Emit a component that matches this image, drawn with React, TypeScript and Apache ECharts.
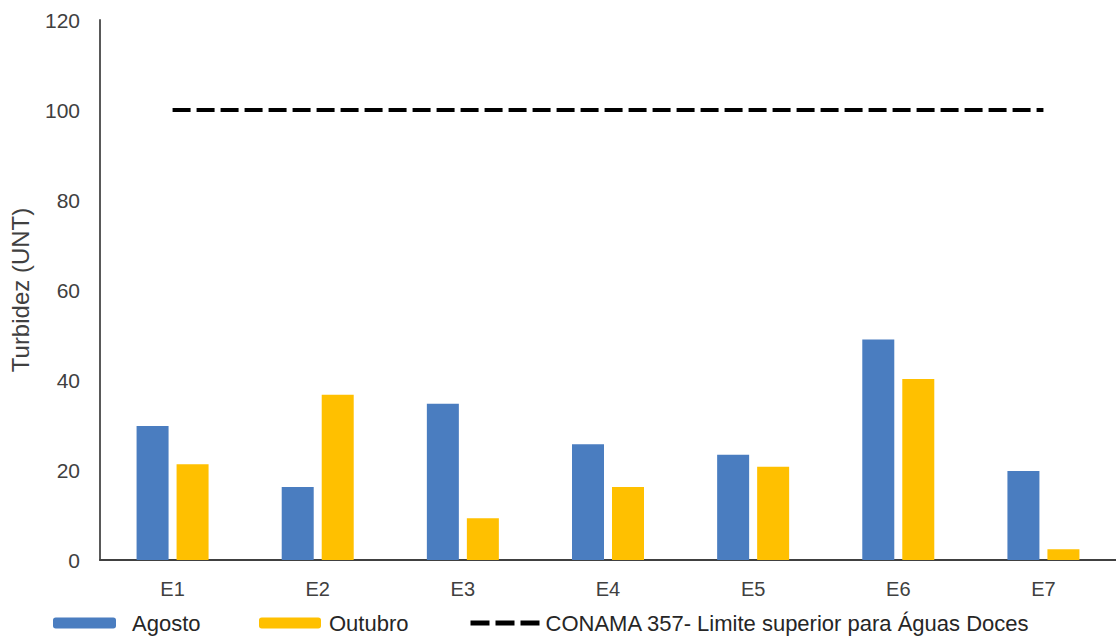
import React, { useEffect, useRef } from "react";
import * as echarts from "echarts";

const categories = ["E1", "E2", "E3", "E4", "E5", "E6", "E7"];
const agosto = [29.8, 16.2, 34.7, 25.7, 23.4, 49.0, 19.8];
const outubro = [21.3, 36.7, 9.3, 16.2, 20.7, 40.2, 2.4];
const limite = [100, 100, 100, 100, 100, 100, 100];
const yTicks = { min: 0, max: 120, interval: 20 };
const names = {
  agosto: "Agosto",
  outubro: "Outubro",
  limite: "CONAMA 357- Limite superior para Águas Doces",
  yAxis: "Turbidez (UNT)",
};

const FONT = "'Liberation Sans', Arial, sans-serif";
const TEXT = "#404040";

export default function App() {
  const ref = useRef<HTMLDivElement>(null);
  useEffect(() => {
    if (!ref.current) return;
    const chart = echarts.init(ref.current, null, { renderer: "svg" });
    const legendBase = {
      top: 612,
      padding: 0,
      itemHeight: 11,
      textStyle: { fontSize: 22, color: "#262626", fontFamily: FONT },
      selectedMode: false,
    };
    chart.setOption({
      animation: false,
      backgroundColor: "#ffffff",
      textStyle: { fontFamily: FONT },
      grid: { left: 100, right: 0, top: 20, bottom: 80, containLabel: false },
      legend: [
        { ...legendBase, left: 53, itemWidth: 63, data: [names.agosto], textStyle: { ...legendBase.textStyle, padding: [0, 0, 0, 11] } },
        { ...legendBase, left: 259, itemWidth: 62, data: [names.outubro], textStyle: { ...legendBase.textStyle, padding: [0, 0, 0, 3] } },
        {
          ...legendBase,
          left: 468,
          itemWidth: 70,
          data: [names.limite],
          itemStyle: { opacity: 0 },
          lineStyle: { width: 5, type: [19, 6], color: "#000000" },
        },
      ],
      xAxis: {
        type: "category",
        data: categories,
        axisLine: { show: true, lineStyle: { color: "#404040", width: 2 } },
        axisTick: { show: false },
        axisLabel: { color: TEXT, fontSize: 20, margin: 19, fontFamily: FONT },
      },
      yAxis: {
        type: "value",
        min: yTicks.min,
        max: yTicks.max,
        interval: yTicks.interval,
        name: names.yAxis,
        nameLocation: "middle",
        nameGap: 68,
        nameTextStyle: { color: TEXT, fontSize: 24, fontFamily: FONT },
        splitLine: { show: false },
        axisLine: { show: true, lineStyle: { color: "#595959", width: 2 } },
        axisTick: { show: false },
        axisLabel: { color: TEXT, fontSize: 21, margin: 20, fontFamily: FONT },
      },
      series: [
        {
          name: names.agosto,
          type: "bar",
          data: agosto,
          barWidth: 32,
          barGap: "25%",
          itemStyle: { color: "#4A7DC0" },
        },
        {
          name: names.outubro,
          type: "bar",
          data: outubro,
          barWidth: 32,
          itemStyle: { color: "#FFC000" },
        },
        {
          name: names.limite,
          type: "line",
          data: limite,
          symbol: "none",
          itemStyle: { color: "#000000" },
          lineStyle: { color: "#000000", width: 4, type: [18, 6] },
        },
      ],
    });
    return () => chart.dispose();
  }, []);
  return (
    <div
      ref={ref}
      style={{ position: "absolute", left: 0, top: 0, width: 1116, height: 640, background: "#fff" }}
    />
  );
}
